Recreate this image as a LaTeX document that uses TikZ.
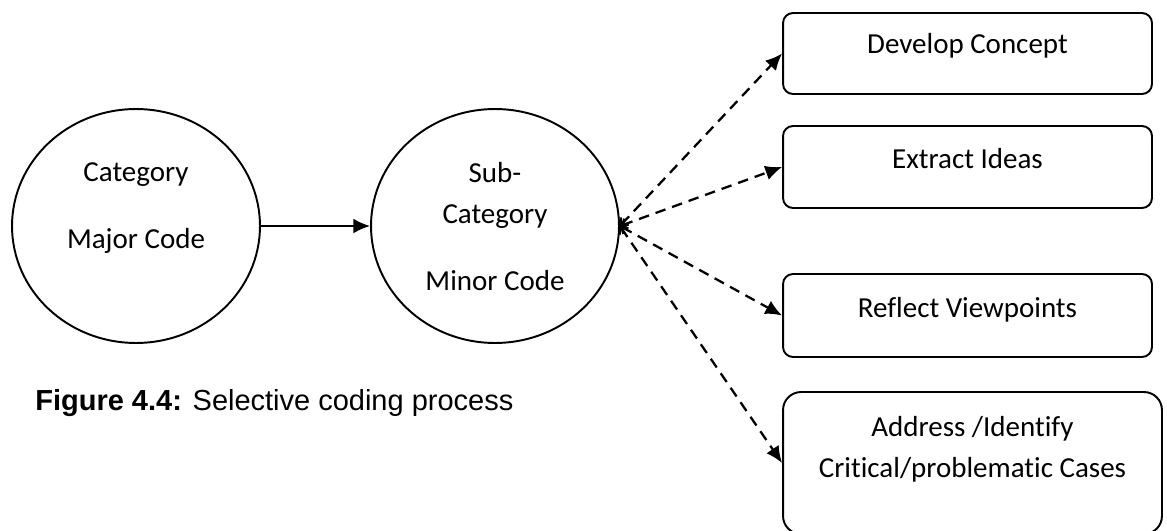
\documentclass[tikz,border=0pt]{standalone}
\usepackage{fontspec}
\setmainfont[Ligatures=NoCommon]{Carlito}
\newfontfamily\capfont{Liberation Sans}
\usetikzlibrary{shapes.geometric,arrows.meta,positioning}

\begin{document}
\begin{tikzpicture}[x=0.02cm,y=-0.02cm,
    bubble/.style={ellipse,draw,line width=1.1pt,minimum width=4.96cm,minimum height=4.68cm,inner sep=0pt},
    codebox/.style={draw,line width=1.1pt,rounded corners=0.2cm,minimum width=7.38cm,inner sep=0pt},
    lbl/.style={anchor=base,inner sep=0pt,font=\fontsize{16.5}{20}\selectfont},
    link/.style={line width=1.3pt,dash pattern=on 6pt off 4pt,
                 {Straight Barb[length=3pt,width=6pt]}-{Latex[length=9.5pt,width=8.5pt]}}]
  \useasboundingbox (0,0) rectangle (1167,531);

  % category and sub-category
  \node[bubble] (major) at (136,226) {};
  \node[bubble] (minor) at (495,226) {};
  \node[lbl] at (136,181) {Category};
  \node[lbl] at (136,248) {Major Code};
  \node[lbl] at (495,182) {Sub-};
  \node[lbl] at (495,223) {Category};
  \node[lbl] at (495,290) {Minor Code};
  \draw[line width=1.3pt,-{Latex[length=9.5pt,width=8.5pt]}] (major) -- (minor);

  % what the minor code feeds
  \node[codebox,minimum height=1.62cm] (concept) at (967.5,53.5) {};
  \node[codebox,minimum height=1.64cm] (ideas) at (967.5,167) {};
  \node[codebox,minimum height=1.66cm] (views) at (967.5,315.5) {};
  \node[codebox,minimum height=2.84cm,minimum width=7.58cm,rounded corners=0.36cm] (cases) at (972.5,463) {};
  \node[lbl] at (967.5,53) {Develop Concept};
  \node[lbl] at (967.5,168) {Extract Ideas};
  \node[lbl] at (967.5,317) {Reflect Viewpoints};
  \node[lbl] at (972.5,436) {Address /Identify};
  \node[lbl] at (972.5,477) {Critical/problematic Cases};

  \foreach \b in {concept,ideas,views,cases}
    \draw[link] (minor.east) -- (\b.west);

  \node[anchor=base west,inner sep=0pt,font=\capfont\fontsize{16.5}{20}\selectfont] (caption) at (35,410)
    {\textbf{Figure 4.4:} Selective coding process};
\end{tikzpicture}
\end{document}
